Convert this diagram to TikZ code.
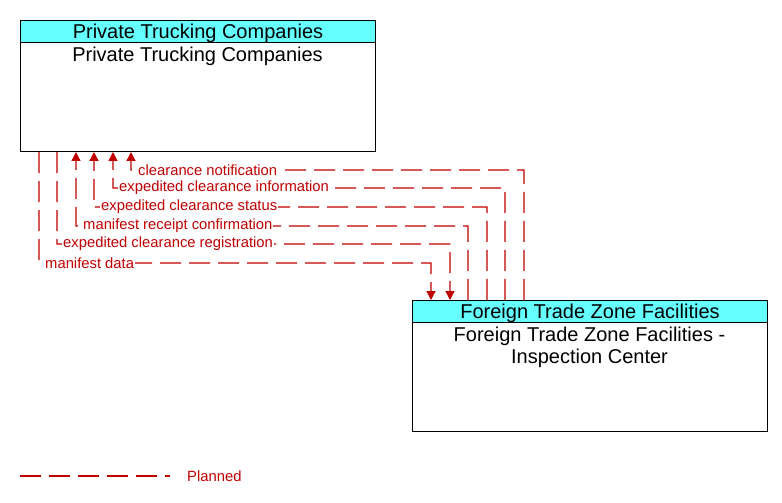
\documentclass[tikz,border=0pt]{standalone}
\usepackage{fontspec}
\setmainfont{Liberation Sans}
\usetikzlibrary{arrows.meta}
\definecolor{flowred}{RGB}{192,0,0}
\definecolor{hdrcyan}{RGB}{102,255,255}
\tikzset{
  box/.style={draw=black, line width=1bp, fill=white, anchor=north west, minimum width=355bp, minimum height=131bp, inner sep=0pt},
  hdr/.style={draw=black, line width=1bp, fill=hdrcyan, anchor=north west, minimum width=355bp, minimum height=22bp, inner sep=0pt},
  hdrtext/.style={anchor=center, inner sep=0pt, font=\fontsize{20bp}{22bp}\selectfont},
  boxtext/.style={anchor=north, align=center, font=\fontsize{20bp}{22bp}\selectfont, inner sep=0pt},
  flow/.style={draw=flowred, line width=1.3bp, dash pattern=on 21bp off 8bp},
  tip/.style={-{Triangle[length=9bp,width=9bp]}},
  lbl/.style={anchor=west, text=flowred, fill=white, inner sep=1bp, font=\fontsize{14.8bp}{16bp}\selectfont},
}
\begin{document}
\begin{tikzpicture}[x=1bp,y=-1bp]
\useasboundingbox (0,0) rectangle (782,503);
% top box
\node[box] (top) at (20,20) {};
\node[hdr] (tophdr) at (20,20) {};
\node[hdrtext] (tophdrt) at ([yshift=-1.5bp]tophdr.center) {Private Trucking Companies};
\node[boxtext] (toptxt) at (197.5,47) {Private Trucking Companies};
% bottom box
\node[box, minimum height=131bp] (bot) at (412,300) {};
\node[hdr] (bothdr) at (412,300) {};
\node[hdrtext] (bothdrt) at ([yshift=-1.5bp]bothdr.center) {Foreign Trade Zone Facilities};
\node[boxtext] (bottxt) at (589.5,327) {Foreign Trade Zone Facilities -\\Inspection Center};
% flows
\coordinate (t1) at ([xshift=111bp]top.south west);
\coordinate (t2) at ([xshift=93bp]top.south west);
\coordinate (t3) at ([xshift=74bp]top.south west);
\coordinate (t4) at ([xshift=56bp]top.south west);
\coordinate (t5) at ([xshift=37bp]top.south west);
\coordinate (t6) at ([xshift=19bp]top.south west);
\coordinate (b1) at ([xshift=112bp]bot.north west);
\coordinate (b2) at ([xshift=93bp]bot.north west);
\coordinate (b3) at ([xshift=75bp]bot.north west);
\coordinate (b4) at ([xshift=56bp]bot.north west);
\coordinate (b5) at ([xshift=38bp]bot.north west);
\coordinate (b6) at ([xshift=19bp]bot.north west);

\draw[flow,tip] (b1) |- (131,170) -- (t1);
\draw[flow,tip] (b2) |- (113,188) -- (t2);
\draw[flow,tip] (b3) |- (94,207) -- (t3);
\draw[flow,tip] (b4) |- (76,226) -- (t4);
\draw[flow,tip] (t5) |- (450,244) -- (b5);
\draw[flow,tip] (t6) |- (431,263) -- (b6);

\node[lbl] (l1) at (137,170) {clearance notification};
\node[lbl] (l2) at (118,188) {expedited clearance information};
\node[lbl] (l3) at (100,207) {expedited clearance status};
\node[lbl] (l4) at (82,226) {manifest receipt confirmation};
\node[lbl] (l5) at (62,244) {expedited clearance registration};
\node[lbl] (l6) at (44,263) {manifest data};

% legend
\coordinate (lg1) at (20,476);
\coordinate (lg2) at (170,476);
\draw[flow] (lg1) -- (lg2);
\node[lbl, fill=none] (lgt) at (186,476) {Planned};
\end{tikzpicture}
\end{document}
